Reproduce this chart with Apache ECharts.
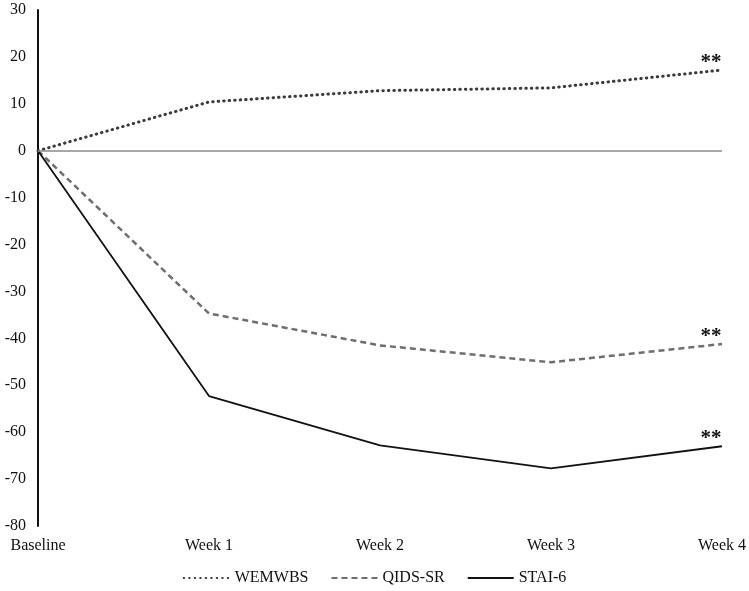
<!DOCTYPE html>
<html><head><meta charset="utf-8">
<script src="https://cdn.jsdelivr.net/npm/echarts@6/dist/echarts.min.js"></script>
<style>html,body{margin:0;padding:0;background:#fff}#c{width:749px;height:591px}</style>
</head><body><div id="c"></div>
<script>
const categories = ['Baseline', 'Week 1', 'Week 2', 'Week 3', 'Week 4'];
const wemwbs = [0, 10.4, 12.8, 13.4, 17.2];
const qids = [0, -34.7, -41.5, -45.1, -41.2];
const stai = [0, -52.3, -62.8, -67.7, -63.0];
const yTicks = { min: -80, max: 30, interval: 10 };
const sigMark = '**';

const font = 'Liberation Serif';
function sigPoint(arr) {
  const i = arr.length - 1;
  return {
    silent: true, symbol: 'circle', symbolSize: 0,
    label: { show: true, formatter: sigMark, position: 'top', offset: [-11, 8],
      fontFamily: font, fontSize: 21, fontWeight: 'bold', color: '#111' },
    data: [{ coord: [categories[i], arr[i]] }]
  };
}
const chart = echarts.init(document.getElementById('c'));
chart.setOption({
  animation: false,
  textStyle: { fontFamily: font },
  grid: { left: 38, right: 26, top: 10, bottom: 65, containLabel: false },
  legend: {
    bottom: 0, left: 'center', itemWidth: 46, itemHeight: 10, itemGap: 22,
    itemStyle: { opacity: 0 },
    textStyle: { fontFamily: font, fontSize: 16, color: '#111' },
    data: ['WEMWBS', 'QIDS-SR', 'STAI-6']
  },
  xAxis: {
    type: 'category', data: categories, boundaryGap: false,
    axisLine: { show: false }, axisTick: { show: false },
    axisLabel: { fontFamily: font, fontSize: 16, color: '#111', margin: 12 },
    splitLine: { show: false }
  },
  yAxis: {
    type: 'value', min: yTicks.min, max: yTicks.max, interval: yTicks.interval,
    axisLine: { show: true, lineStyle: { color: '#111', width: 2 } },
    axisTick: { show: false }, splitLine: { show: false },
    axisLabel: { fontFamily: font, fontSize: 16, color: '#111', margin: 12 }
  },
  series: [
    { name: 'WEMWBS', type: 'line', data: wemwbs, symbol: 'none',
      lineStyle: { color: '#3a3a3a', width: 3, type: [0.5, 5], cap: 'round' }, itemStyle: { color: '#3a3a3a' },
      markPoint: sigPoint(wemwbs),
      markLine: { silent: true, symbol: 'none', label: { show: false },
        lineStyle: { color: '#8a8a8a', width: 1.5, type: 'solid' }, data: [{ yAxis: 0 }] } },
    { name: 'QIDS-SR', type: 'line', data: qids, symbol: 'none',
      lineStyle: { color: '#6e6e6e', width: 2.5, type: [6, 4] }, itemStyle: { color: '#6e6e6e' },
      markPoint: sigPoint(qids) },
    { name: 'STAI-6', type: 'line', data: stai, symbol: 'none',
      lineStyle: { color: '#111', width: 1.8, type: 'solid' }, itemStyle: { color: '#111' },
      markPoint: sigPoint(stai) }
  ]
});
</script></body></html>
